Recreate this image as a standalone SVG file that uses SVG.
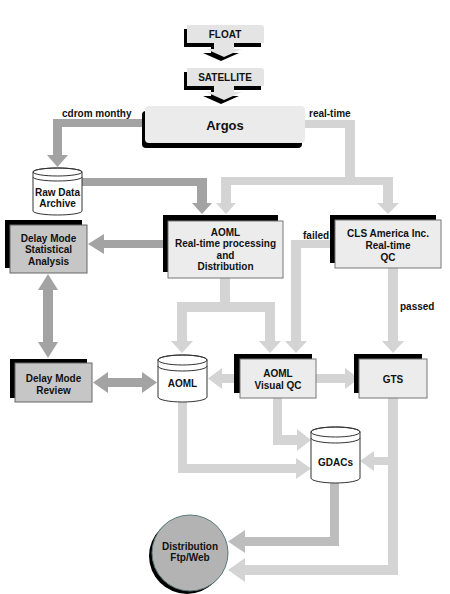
<svg xmlns="http://www.w3.org/2000/svg" width="450" height="594" viewBox="0 0 450 594">
<style>
.t{font-family:"Liberation Sans",Arial,sans-serif;font-weight:bold;font-size:10px;text-anchor:middle;fill:#111}
.lb{font-family:"Liberation Sans",Arial,sans-serif;font-weight:bold;font-size:10px;fill:#111}
.sh{fill:#000}
.bx{fill:#ececec;stroke:#777;stroke-width:1}
.gb{fill:#c6c6c6;stroke:#666;stroke-width:1}
.cy{fill:#fff;stroke:#333;stroke-width:1}
.cl{fill:none;stroke:#333;stroke-width:1}
.dk{fill:#a3a3a3}
.lt{fill:#d4d4d4}
.md{fill:#bdbdbd}
</style>
<defs>
<path id="callout" d="M187,25 H261 Q264,25 264,28 V43 H234 V49 H242 L224,57 L206,49 H214 V43 H187 Z"/>
</defs>
<rect width="450" height="594" fill="#fff"/>

<g id="connectors">
<!-- cdrom monthy -->
<polygon class="dk" points="142,119 53,119 53,155 47,155 57.5,167 68,155 62,155 62,127 142,127"/>
<!-- real-time -->
<polygon class="lt" points="305,120 355,120 355,177 393,177 393,203 399,203 388,214 377,203 383,203 383,185 231,185 231,203 236,203 226,214 216,203 221,203 221,185 221,177 345,177 345,128 305,128"/>
<!-- raw data -> AOML -->
<polygon class="dk" points="82,178 207,178 207,203 212,203 202,214 192,203 197,203 197,186 82,186"/>
<!-- AOML -> Delay Mode Stats -->
<polygon class="dk" points="163,240 104,240 104,234 88,244 104,254 104,248 163,248"/>
<!-- Stats <-> Review -->
<polygon class="dk" points="48,274 58,290 53,290 53,342 58,342 48,358 38,342 43,342 43,290 38,290"/>
<!-- Review <-> AOML cyl -->
<polygon class="dk" points="93,382.5 108,372 108,378 142,378 142,372 157,382.5 142,393 142,387 108,387 108,393"/>
<!-- AOML box -> AOML cyl, Visual QC -->
<polygon class="lt" points="220,278 230,278 230,302 275,302 275,341 281,341 270,353 259,341 265,341 265,312 187,312 187,341 193,341 182,353 171,341 177,341 177,302 220,302"/>
<!-- CLS failed -> Visual QC -->
<polygon class="lt" points="330,240 291,240 291,341 285,341 296,353 307,341 301,341 301,248 330,248"/>
<!-- CLS passed -> GTS -->
<polygon class="lt" points="388,268 398,268 398,341 404,341 393,353 382,341 388,341"/>
<!-- Visual QC -> AOML cyl -->
<polygon class="lt" points="234,374 222,374 222,368 208,378.5 222,389 222,383 234,383"/>
<!-- Visual QC -> GTS -->
<polygon class="lt" points="316,374 345,374 345,368 359,378.5 345,389 345,383 316,383"/>
<!-- Visual QC -> GDACs -->
<polygon class="lt" points="273,398 282,398 282,435 297,435 297,429 311,440 297,451 297,445 273,445"/>
<!-- AOML cyl -> GDACs -->
<polygon class="lt" points="178,402 187,402 187,464 296,464 296,458 311,468.5 296,479 296,473 178,473"/>
<!-- GTS -> GDACs, Distribution -->
<polygon class="lt" points="388,398 398,398 398,575 245,575 245,582 228,570 245,558 245,565 388,565 388,465 374,465 374,471 360,461 374,451 374,457 388,457"/>
<!-- GDACs -> Distribution -->
<polygon class="md" points="330,483 339,483 339,546 245,546 245,553 228,541.5 245,530 245,537 330,537"/>
<text class="lb" x="62" y="117">cdrom monthy</text>
<text class="lb" x="309" y="117">real-time</text>
<text class="lb" x="303" y="239">failed</text>
<text class="lb" x="400" y="310">passed</text>
</g>

<g id="float">
<use href="#callout" class="sh" transform="translate(-3,4)"/>
<use href="#callout" fill="#e4e4e4"/>
<text class="t" x="225" y="38">FLOAT</text>
</g>

<g id="satellite">
<use href="#callout" class="sh" transform="translate(-3,47)"/>
<use href="#callout" fill="#e4e4e4" transform="translate(0,43)"/>
<text class="t" x="225" y="81">SATELLITE</text>
</g>

<g id="argos">
<rect class="sh" x="142" y="111" width="160" height="37" rx="4"/>
<rect x="145" y="106" width="160" height="37" rx="4" fill="#ebebeb"/>
<text class="t" x="225" y="130" style="font-size:13px">Argos</text>
</g>

<g id="raw-data-archive">
<path class="cy" d="M33,172 A24.5,4 0 0 1 82,172 V211 A24.5,4 0 0 1 33,211 Z"/>
<ellipse class="cl" cx="57.5" cy="172" rx="24.5" ry="4"/>
<path class="cl" d="M33,177 A24.5,4 0 0 0 82,177"/>
<text class="t" x="57.5" y="196">Raw Data</text>
<text class="t" x="57.5" y="207">Archive</text>
</g>

<g id="delay-mode-stats">
<rect class="sh" x="5" y="220" width="77" height="48"/>
<rect class="gb" x="10" y="225" width="77" height="48"/>
<text class="t" x="48.5" y="242">Delay Mode</text>
<text class="t" x="48.5" y="253">Statistical</text>
<text class="t" x="48.5" y="265">Analysis</text>
</g>

<g id="aoml-rtp">
<rect class="sh" x="163" y="215" width="115" height="57"/>
<rect class="bx" x="168" y="221" width="115" height="57"/>
<text class="t" x="225.5" y="236">AOML</text>
<text class="t" x="225.5" y="247">Real-time processing</text>
<text class="t" x="225.5" y="259">and</text>
<text class="t" x="225.5" y="270">Distribution</text>
</g>

<g id="cls">
<rect class="sh" x="330" y="215" width="106" height="48"/>
<rect class="bx" x="335" y="220" width="106" height="48"/>
<text class="t" x="388" y="237">CLS America Inc.</text>
<text class="t" x="388" y="249">Real-time</text>
<text class="t" x="388" y="261">QC</text>
</g>

<g id="delay-mode-review">
<rect class="sh" x="10" y="359" width="77" height="39"/>
<rect class="gb" x="15" y="363" width="77" height="39"/>
<text class="t" x="53.5" y="382">Delay Mode</text>
<text class="t" x="53.5" y="394">Review</text>
</g>

<g id="aoml-db">
<path class="cy" d="M158,360 A24.5,5 0 0 1 207,360 V397 A24.5,5 0 0 1 158,397 Z"/>
<ellipse class="cl" cx="182.5" cy="360" rx="24.5" ry="5"/>
<path class="cl" d="M158,366 A24.5,5 0 0 0 207,366"/>
<text class="t" x="182.5" y="387">AOML</text>
</g>

<g id="aoml-visual-qc">
<rect class="sh" x="234" y="354" width="78" height="39"/>
<rect class="bx" x="240" y="359" width="76" height="39"/>
<text class="t" x="278" y="377">AOML</text>
<text class="t" x="278" y="389">Visual QC</text>
</g>

<g id="gts">
<rect class="sh" x="354" y="354" width="68" height="39"/>
<rect class="bx" x="359" y="359" width="68" height="39"/>
<text class="t" x="393" y="383">GTS</text>
</g>

<g id="gdacs">
<path class="cy" d="M311,432 A24.5,5 0 0 1 360,432 V478 A24.5,5 0 0 1 311,478 Z"/>
<ellipse class="cl" cx="335.5" cy="432" rx="24.5" ry="5"/>
<path class="cl" d="M311,438 A24.5,5 0 0 0 360,438"/>
<text class="t" x="335.5" y="466">GDACs</text>
</g>

<g id="distribution">
<circle class="sh" cx="187" cy="556" r="38"/>
<circle cx="190" cy="553" r="38" fill="#b3b3b3" stroke="#5a7a7a" stroke-width="1"/>
<text class="t" x="190" y="550">Distribution</text>
<text class="t" x="190" y="561">Ftp/Web</text>
</g>
</svg>
